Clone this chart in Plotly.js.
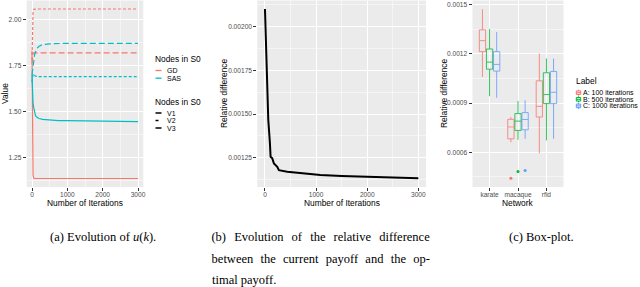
<!DOCTYPE html>
<html><head><meta charset="utf-8">
<script src="https://cdn.plot.ly/plotly-3.0.1.min.js"></script>
<style>html,body{margin:0;padding:0;background:#fff;overflow:hidden}#chart{width:640px;height:287px}</style>
</head><body><div id="chart"></div>
<script>
// ---------------- data ----------------
// (a) evolution of u(k)
const iterA = [0, 10, 20, 30, 50, 75, 100, 150, 200, 300, 500, 750, 1000, 1500, 2000, 2500, 3000];
const gdV1  = [1.83, 1.50, 1.25, 1.15, 1.136, 1.134, 1.134, 1.134, 1.134, 1.134, 1.134, 1.134, 1.134, 1.134, 1.134, 1.134, 1.134];
const gdV2  = [1.78, 1.92, 2.01, 2.045, 2.056, 2.058, 2.058, 2.058, 2.058, 2.058, 2.058, 2.058, 2.058, 2.058, 2.058, 2.058, 2.058];
const gdV3  = [1.76, 1.79, 1.808, 1.815, 1.819, 1.819, 1.819, 1.819, 1.819, 1.819, 1.819, 1.819, 1.819, 1.819, 1.819, 1.819, 1.819];
const sasV1 = [1.70, 1.62, 1.57, 1.545, 1.52, 1.49, 1.476, 1.466, 1.461, 1.456, 1.452, 1.450, 1.449, 1.448, 1.447, 1.446, 1.444];
const sasV2 = [1.66, 1.69, 1.70, 1.705, 1.702, 1.696, 1.692, 1.690, 1.689, 1.689, 1.689, 1.689, 1.689, 1.689, 1.689, 1.689, 1.689];
const sasV3 = [1.70, 1.72, 1.74, 1.755, 1.785, 1.81, 1.825, 1.845, 1.855, 1.864, 1.868, 1.870, 1.871, 1.871, 1.871, 1.871, 1.871];
const methods = ['GD', 'SAS'];
const nodeSets = ['V1', 'V2', 'V3'];

// (b) relative difference
const iterB = [0, 26, 45, 65, 97, 110, 143, 175, 240, 273, 435, 760, 1085, 1500, 2000, 2500, 3000];
const relDiff = [0.002100, 0.001867, 0.001638, 0.001466, 0.001333, 0.001256, 0.001247, 0.001218, 0.001199, 0.001180, 0.001171, 0.001161, 0.001152, 0.001146, 0.001143, 0.001138, 0.001134];

// (c) box-plot
const networks = ['karate', 'macaque', 'rfid'];
const labels = ['A: 100 iterations', 'B: 500 iterations', 'C: 1000 iterations'];
const lowA = [0.001060, 0.000661, 0.000594];
const q1A  = [0.001214, 0.000682, 0.000815];
const medA = [0.001281, 0.000754, 0.000880];
const q3A  = [0.001347, 0.000801, 0.001036];
const upA  = [0.001473, 0.000815, 0.001203];
const outA = [null, 0.000441, null];
const lowB = [0.000942, 0.000676, 0.000672];
const q1B  = [0.001107, 0.000733, 0.000897];
const medB = [0.001150, 0.000790, 0.000952];
const q3B  = [0.001230, 0.000836, 0.001085];
const upB  = [0.001353, 0.000913, 0.001172];
const outB = [null, 0.000482, null];
const lowC = [0.000932, 0.000682, 0.000682];
const q1C  = [0.001095, 0.000737, 0.000897];
const medC = [0.001136, 0.000800, 0.000966];
const q3C  = [0.001214, 0.000842, 0.001093];
const upC  = [0.001333, 0.000917, 0.001172];
const outC = [null, 0.000488, null];

// captions
const capA = '(a) Evolution of <i>u</i>(<i>k</i>).';
const capB = ['(b) Evolution of the relative difference', 'between the current payoff and the op-', 'timal payoff.'];
const capC = '(c) Box-plot.';

// ---------------- style ----------------
const W = 640, H = 287;
const px = v => v / W, py = v => 1 - v / H;
const PAD = 2; // annotation inner padding compensation for left-anchored text
const RED = '#F8766D', CYAN = '#00BFC4', GREEN = '#00BA38', BLUE = '#619CFF';
const methodColors = [RED, CYAN];
const dashes = ['solid', '3px,2px', '6px,3px'];
const legendDashes = ['solid', 'dot', 'dash'];
const SANS = 'Liberation Sans, Arial, sans-serif';
const SERIF = 'Liberation Serif, Times New Roman, serif';

const traces = [];
const seriesA = [[gdV1, gdV2, gdV3], [sasV1, sasV2, sasV3]];
methods.forEach((m, mi) => nodeSets.forEach((v, vi) => {
  traces.push({type: 'scatter', mode: 'lines', x: iterA, y: seriesA[mi][vi], xaxis: 'x', yaxis: 'y',
    name: m + ' ' + v, line: {color: methodColors[mi], width: 1.2, dash: dashes[vi]}, showlegend: false, hoverinfo: 'skip'});
}));
traces.push({type: 'scatter', mode: 'lines', x: iterB, y: relDiff, xaxis: 'x2', yaxis: 'y2',
  line: {color: '#000', width: 2}, showlegend: false, hoverinfo: 'skip'});

const boxStats = [[lowA, q1A, medA, q3A, upA, outA], [lowB, q1B, medB, q3B, upB, outB], [lowC, q1C, medC, q3C, upC, outC]];
const boxColors = [RED, GREEN, BLUE];
const offsets = [-0.25, 0, 0.25];
labels.forEach((lab, li) => {
  const s = boxStats[li];
  const xs = networks.map((n, i) => i + 1 + offsets[li]);
  traces.push({type: 'box', orientation: 'v', name: lab, x: xs, lowerfence: s[0], q1: s[1], median: s[2], q3: s[3], upperfence: s[4],
    xaxis: 'x3', yaxis: 'y3', width: 0.22, whiskerwidth: 0, boxpoints: false, opacity: 0.8,
    line: {color: boxColors[li], width: 1}, fillcolor: 'rgba(0,0,0,0)', showlegend: false, hoverinfo: 'skip'});
  traces.push({type: 'scatter', mode: 'markers', x: xs, y: s[5], xaxis: 'x3', yaxis: 'y3',
    marker: {color: boxColors[li], size: 3}, showlegend: false, hoverinfo: 'skip'});
});

const tickfont = {family: SANS, size: 6.6, color: '#4D4D4D'};
const common = {showline: false, zeroline: false, gridcolor: '#FFFFFF', gridwidth: 1, ticks: 'outside', ticklen: 3,
  tickwidth: 1, tickcolor: '#333333', tickfont: tickfont, fixedrange: true};
const xcommon = Object.assign({}, common, {ticklabelstandoff: -2});
const minor = d => ({dtick: d, tick0: 0, showgrid: true, gridcolor: '#FFFFFF', gridwidth: 0.5, ticks: ''});
const yDom = [py(187), py(0.5)];

const layout = {
  width: W, height: H, margin: {l: 0, r: 0, t: 0, b: 0}, paper_bgcolor: '#FFFFFF', plot_bgcolor: '#EBEBEB',
  showlegend: false,
  xaxis:  Object.assign({}, xcommon, {domain: [px(26.7), px(143.3)], anchor: 'y', range: [-150, 3150], tick0: 0, dtick: 1000, minor: minor(500)}),
  yaxis:  Object.assign({}, common, {domain: yDom, anchor: 'x', range: [1.0878, 2.1042], tick0: 0, dtick: 0.25, tickformat: '.2f', minor: minor(0.125)}),
  xaxis2: Object.assign({}, xcommon, {domain: [px(257.3), px(426)], anchor: 'y2', range: [-150, 3150], tick0: 0, dtick: 1000, minor: minor(500)}),
  yaxis2: Object.assign({}, common, {domain: yDom, anchor: 'x2', range: [0.0010836, 0.0021484], tick0: 0, dtick: 0.00025, tickformat: '.5f', minor: minor(0.000125)}),
  xaxis3: Object.assign({}, xcommon, {domain: [px(472.5), px(563.5)], anchor: 'y3', range: [0.4, 3.6], tickvals: [1, 2, 3], ticktext: networks}),
  yaxis3: Object.assign({}, common, {domain: yDom, anchor: 'x3', range: [0.000388, 0.001526], tick0: 0, dtick: 0.0003, tickformat: '.4f', minor: minor(0.00015)}),
  annotations: [], shapes: []
};

const ann = (text, x, y, o) => layout.annotations.push(Object.assign({text: text, x: px(x), y: py(y), xref: 'paper', yref: 'paper',
  showarrow: false, xanchor: 'center', yanchor: 'middle', font: {family: SANS, size: 8.4, color: '#000'}}, o || {}));
const annL = (text, x, y, o) => ann(text, x - PAD, y, Object.assign({xanchor: 'left'}, o || {}));

// axis titles
ann('Value', 4.5, 93.5, {textangle: -90});
ann('Number of Iterations', 85, 202.5);
ann('Relative difference', 223.5, 93.5, {textangle: -90});
ann('Number of Iterations', 341.7, 202.5);
ann('Relative difference', 443.5, 93.5, {textangle: -90});
ann('Network', 518, 202.5);

// legend (a)
const legTxt = {family: SANS, size: 7, color: '#000'};
annL('Nodes in S0', 155, 59.5);
methods.forEach((m, i) => {
  const y = 70.5 + i * 7.7;
  layout.shapes.push({type: 'line', xref: 'paper', yref: 'paper', x0: px(155.5), x1: px(161.5), y0: py(y), y1: py(y), line: {color: methodColors[i], width: 1.3}});
  annL(m, 166.5, y, {font: legTxt});
});
annL('Nodes in S0', 155, 101.5);
nodeSets.forEach((v, i) => {
  const y = 113 + i * 7.5;
  layout.shapes.push({type: 'line', xref: 'paper', yref: 'paper', x0: px(155.5), x1: px(161.5), y0: py(y), y1: py(y), line: {color: '#000', width: 1.5, dash: legendDashes[i]}});
  annL(v, 166.5, y, {font: legTxt});
});

// legend (c)
annL('Label', 575.5, 80.5);
labels.forEach((l, i) => {
  const y = 92.7 + i * 6.6, c = boxColors[i];
  layout.shapes.push({type: 'line', xref: 'paper', yref: 'paper', x0: px(578.5), x1: px(578.5), y0: py(y - 3), y1: py(y + 3), line: {color: c, width: 1}});
  layout.shapes.push({type: 'rect', xref: 'paper', yref: 'paper', x0: px(576.3), x1: px(580.7), y0: py(y - 1.8), y1: py(y + 1.8), fillcolor: '#EBEBEB', line: {color: c, width: 1}});
  layout.shapes.push({type: 'line', xref: 'paper', yref: 'paper', x0: px(576.3), x1: px(580.7), y0: py(y), y1: py(y), line: {color: c, width: 1}});
  annL(l, 583, y, {font: legTxt});
});

// captions
const capFont = {family: SERIF, size: 12.5, color: '#000'};
ann(capA, 102.5, 236.7, {font: capFont});
ann(capB[0], 320.85, 236.7, {font: capFont});
ann(capB[1], 320.85, 258.5, {font: capFont});
annL(capB[2], 211.7, 280, {font: capFont});
ann(capC, 541.5, 236.7, {font: capFont});
const justifyWidth = {};
justifyWidth[capB[0]] = 218.3;
justifyWidth[capB[1]] = 218.3;

Plotly.newPlot('chart', traces, layout, {staticPlot: true, responsive: false}).then(() => {
  document.querySelectorAll('.annotation-text').forEach(t => {
    const target = justifyWidth[t.textContent];
    if (target) {
      const n = (t.textContent.match(/ /g) || []).length;
      const w = t.getComputedTextLength();
      if (n > 0 && target > w) t.style.wordSpacing = ((target - w) / n) + 'px';
    }
  });
});
</script></body></html>
